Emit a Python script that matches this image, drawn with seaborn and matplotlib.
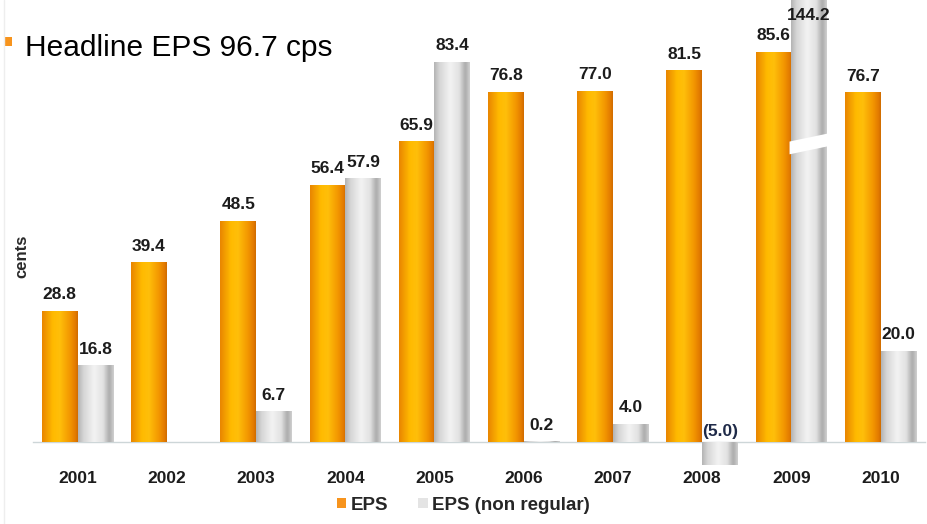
import numpy as np
import pandas as pd
import matplotlib
matplotlib.use("Agg")
import matplotlib.pyplot as plt
from matplotlib.colors import LinearSegmentedColormap
from matplotlib.patches import Patch, Rectangle, Polygon
from matplotlib.lines import Line2D
import seaborn as sns

# ---- data -------------------------------------------------------------
years = ["2001", "2002", "2003", "2004", "2005",
         "2006", "2007", "2008", "2009", "2010"]
eps = [28.8, 39.4, 48.5, 56.4, 65.9, 76.8, 77.0, 81.5, 85.6, 76.7]
eps_non_regular = [16.8, np.nan, 6.7, 57.9, 83.4, 0.2, 4.0, -5.0, 144.2, 20.0]
series_names = ["EPS", "EPS (non regular)"]
headline = "Headline EPS 96.7 cps"
y_label = "cents"

# ---- style ------------------------------------------------------------
sns.set_theme(style="white")
plt.rcParams["font.family"] = ["Liberation Sans", "DejaVu Sans"]
NARROW = ["Liberation Sans Narrow", "Liberation Sans", "DejaVu Sans"]

ORANGE = "#f7941d"
GREY = "#d9d9d9"

df = pd.DataFrame({
    "year": years * 2,
    "series": [series_names[0]] * len(years) + [series_names[1]] * len(years),
    "value": eps + eps_non_regular,
}).dropna()

fig = plt.figure(figsize=(9.27, 5.24), dpi=100)
ax = fig.add_axes([0.0356, 0.1042, 0.9624, 0.8366])

sns.barplot(data=df, x="year", y="value", hue="series", order=years,
            hue_order=series_names, palette=[ORANGE, GREY], width=0.8,
            saturation=1, legend=False, ax=ax, errorbar=None)

Y_TOP, Y_BOTTOM = 90.1, -6.0

# horizontal colour gradients for the two bar styles
orange_cmap = LinearSegmentedColormap.from_list("orange_bar", [
    (0.0, "#e98600"), (0.3, "#ffba00"), (0.5, "#ffbf0a"),
    (0.8, "#f29400"), (0.94, "#e27a00"), (1.0, "#d06c00")])
grey_cmap = LinearSegmentedColormap.from_list("grey_bar", [
    (0.0, "#b4b4b4"), (0.15, "#d6d6d6"), (0.45, "#f3f3f3"),
    (0.7, "#e2e2e2"), (0.88, "#acacac"), (1.0, "#cfcfcf")])
grad = np.linspace(0, 1, 64).reshape(1, -1)

label_style = dict(ha="center", va="bottom", fontsize=12.5, fontweight="bold",
                   family=NARROW, color="#1c1c1c", textcoords="offset points")

for container, cmap in zip(ax.containers, [orange_cmap, grey_cmap]):
    for bar in container:
        x, w, h = bar.get_x(), bar.get_width(), bar.get_height()
        if not np.isfinite(h):
            continue
        y0, y1 = (0, h) if h >= 0 else (h, 0)
        im = ax.imshow(grad, cmap=cmap, extent=[x, x + w, y0, y1],
                       aspect="auto", interpolation="bicubic", zorder=2)
        im.set_clip_path(bar)
        bar.set_facecolor("none")
        bar.set_edgecolor("none")
        cx = x + w / 2
        if h >= 0:
            ax.annotate(f"{h:.1f}", (cx, min(h, Y_TOP)), xytext=(0, 6),
                        annotation_clip=False, **label_style)
        else:
            ax.annotate(f"({abs(h):.1f})", (cx, 0), xytext=(0, 2),
                        annotation_clip=False,
                        **{**label_style, "color": "#1f2a48"})
        # axis break on bars that run past the top of the scale
        if h > Y_TOP:
            yb, t, s = 0.71 * Y_TOP, 2.8, 1.8
            ax.add_patch(Polygon([(x - 0.02, yb - s / 2), (x + w + 0.02, yb + s / 2),
                                  (x + w + 0.02, yb + s / 2 + t), (x - 0.02, yb - s / 2 + t)],
                                 closed=True, facecolor="white", edgecolor="none",
                                 zorder=3))

ax.set_ylim(Y_BOTTOM, Y_TOP)
ax.set_xlim(-0.5, len(years) - 0.5)
ax.set_xlabel("")
ax.set_ylabel("")
ax.set_yticks([])

for side in ["top", "right", "left"]:
    ax.spines[side].set_visible(False)
ax.spines["bottom"].set_position(("data", 0))
ax.spines["bottom"].set_color("#cdd6d8")
ax.spines["bottom"].set_linewidth(1.0)
ax.spines["bottom"].set_zorder(1)

ax.set_xticks(range(len(years)))
ax.set_xticklabels(years, fontsize=12.5, fontweight="bold", family=NARROW,
                   color="#1c1c1c")
ax.tick_params(axis="x", which="major", length=0, pad=21)
ax.set_xticks(np.arange(-0.5, len(years)), minor=True)
ax.tick_params(axis="x", which="minor", length=3, color="#cdd6d8", width=0.8,
               direction="out")
ax.patch.set_alpha(0)

# legend along the bottom
handles = [Patch(facecolor=ORANGE, edgecolor="none", label=series_names[0]),
           Patch(facecolor="#e4e4e4", edgecolor="none", label=series_names[1])]
fig.legend(handles=handles, loc="center", bbox_to_anchor=(0.5, 0.036), ncol=2,
           frameon=False, handlelength=0.5, handleheight=0.5,
           handletextpad=0.25, columnspacing=1.6,
           prop={"weight": "bold", "size": 13.5})

# headline with square bullet, y label, faint left rule
fig.patches.append(Rectangle((4 / 927, 1 - 46 / 524), 8 / 927, 9 / 524,
                             transform=fig.transFigure, facecolor=ORANGE,
                             edgecolor="none"))
fig.text(25 / 927, 1 - 48 / 524, headline, fontsize=21.5, va="center",
         ha="left", color="black")
fig.text(22 / 927, 1 - 256 / 524, y_label, rotation=90, fontsize=12,
         fontweight="bold", family=NARROW, va="center", ha="center",
         color="#2a2a2a")
fig.lines.append(Line2D([3.5 / 927, 3.5 / 927], [0, 1], transform=fig.transFigure,
                        color="#eeeeee", lw=1))

fig.savefig("out.png", dpi=100)
